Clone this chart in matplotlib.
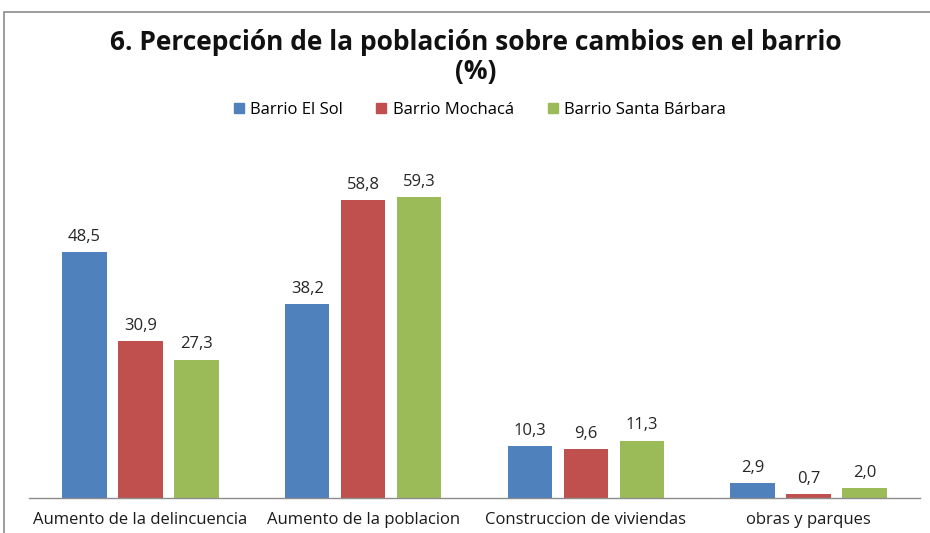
import matplotlib
matplotlib.use("Agg")
import matplotlib.pyplot as plt
import numpy as np

categories = ["Aumento de la delincuencia", "Aumento de la poblacion",
              "Construccion de viviendas", "obras y parques"]
series_names = ["Barrio El Sol", "Barrio Mochacá", "Barrio Santa Bárbara"]
el_sol = [48.5, 38.2, 10.3, 2.9]
mochaca = [30.9, 58.8, 9.6, 0.7]
santa_barbara = [27.3, 59.3, 11.3, 2.0]
colors = ["#4F81BD", "#C0504D", "#9BBB59"]

plt.rcParams["font.family"] = ["Open Sans", "DejaVu Sans"]

W, H = 930, 533
fig = plt.figure(figsize=(W / 100, H / 100), dpi=100)
fig.patch.set_facecolor("white")

# outer chart frame
frame = plt.Rectangle((4 / W, -0.1), 1.2, (533 - 12) / H + 0.1, transform=fig.transFigure,
                      fill=False, edgecolor="#8c8c8c", linewidth=1.2)
fig.add_artist(frame)

ymax = 62
px_per_unit = 5.07
ax_bottom = 498
ax_h = ymax * px_per_unit
ax = fig.add_axes([29 / W, (H - ax_bottom) / H, (920 - 29) / W, ax_h / H])

x = np.arange(len(categories))
width = 0.2
step = 0.251
for i, (vals, name) in enumerate(zip([el_sol, mochaca, santa_barbara], series_names)):
    pos = x + (i - 1) * step
    bars = ax.bar(pos, vals, width, color=colors[i], label=name)
    for b, v in zip(bars, vals):
        ax.text(b.get_x() + b.get_width() / 2, v + 3.0,
                f"{v:.1f}".replace(".", ","), ha="center", va="center",
                fontsize=12, color="#262626")

ax.set_xlim(-0.5, 3.5)
ax.set_ylim(0, ymax)
ax.set_yticks([])
ax.set_xticks(x)
ax.set_xticklabels(categories, fontsize=12, color="#1a1a1a")
ax.tick_params(axis="x", length=0, pad=10)
for s in ["top", "right", "left"]:
    ax.spines[s].set_visible(False)
ax.spines["bottom"].set_color("#8c8c8c")
ax.spines["bottom"].set_linewidth(1.0)

fig.text(476 / W, 1 - 42 / H, "6. Percepción de la población sobre cambios en el barrio",
         ha="center", va="center", fontsize=19, fontweight="bold", color="#111111")
fig.text(476 / W, 1 - 72 / H, "(%)", ha="center", va="center",
         fontsize=19, fontweight="bold", color="#111111")

handles = [plt.Line2D([], [], marker="s", linestyle="none", markersize=7,
                      markerfacecolor=c, markeredgecolor=c) for c in colors]
fig.legend(handles, series_names, loc="center", bbox_to_anchor=(479 / W, 1 - 110 / H),
           ncol=3, frameon=False, fontsize=12, handletextpad=0.3,
           columnspacing=1.9, handlelength=0.8)

fig.savefig("out.png", dpi=100, facecolor="white")
